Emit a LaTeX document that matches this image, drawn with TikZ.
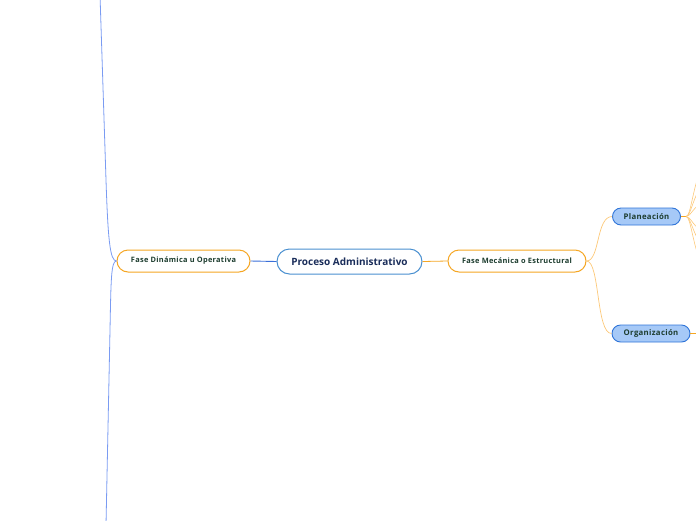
\documentclass[tikz,border=0pt]{standalone}
\usepackage{fontspec}
\setmainfont{Open Sans}
\usetikzlibrary{shapes.misc}
\definecolor{cblue}{HTML}{4A90D0}
\definecolor{cnavy}{HTML}{1A2D5A}
\definecolor{corange}{HTML}{F5A623}
\definecolor{clorange}{HTML}{FCC878}
\definecolor{cgreen}{HTML}{1D3D2F}
\definecolor{cfill}{HTML}{A6C9F7}
\definecolor{cfborder}{HTML}{2F74D8}
\definecolor{cline}{HTML}{7A9BF2}
\definecolor{cdline}{HTML}{3A6FD8}
\newfontfamily\smallfam[LetterSpace=4]{Open Sans}
\tikzset{
  central/.style={draw=cblue, line width=1pt, rounded rectangle, fill=white,
    minimum width=145pt, minimum height=25pt, inner sep=0pt,
    font=\fontsize{10}{12}\selectfont\bfseries, text=cnavy},
  phase/.style={draw=corange, line width=1pt, rounded rectangle, fill=white,
    minimum height=22pt, inner sep=0pt,
    font=\smallfam\fontsize{7.4}{9}\selectfont\bfseries, text=cgreen},
  sub/.style={draw=cfborder, line width=0.9pt, rounded rectangle, fill=cfill,
    minimum height=17pt, inner sep=0pt,
    font=\smallfam\fontsize{7.8}{9}\selectfont\bfseries, text=cgreen},
  blueline/.style={draw=cline, line width=0.8pt},
  orline/.style={draw=clorange, line width=0.7pt},
}
\begin{document}
\begin{tikzpicture}[x=1pt,y=-1pt]
\useasboundingbox (0,0) rectangle (696,520);
\clip (0,0) rectangle (696,520);
\node[central] (pa) at (349.5,261.5) {Proceso Administrativo};
\node[phase, minimum width=133pt] (fd) at (183.5,261) {Fase Dinámica u Operativa};
\node[phase, minimum width=138pt] (fm) at (517,261) {Fase Mecánica o Estructural};
\node[sub, minimum width=68pt] (pl) at (646.5,216.5) {Planeación};
\node[sub, minimum width=78pt] (or) at (651,333.5) {Organización};
\coordinate (top) at (100,-5);
\coordinate (bot) at (106,525);
\coordinate (plh) at (686,216.5);
\coordinate (orend) at (700,333.5);
% left connectors
\draw[draw=cdline, line width=0.9pt] (pa.west) -- (fd.east);
\draw[blueline] (fd.west) .. controls (110,261) and (108,240) .. (106,180) -- (top);
\draw[blueline] (fd.west) .. controls (111,261) and (111,280) .. (110,330) -- (bot);
% right connectors
\draw[draw=corange, line width=0.8pt] (pa.east) -- (fm.west);
\draw[orline] (fm.east) .. controls (600,261) and (596,216.5) .. (pl.west);
\draw[orline] (fm.east) .. controls (600,261) and (596,333.5) .. (or.west);
\draw[draw=corange, line width=1.6pt] (pl.east) -- (plh);
\foreach \y/\ex in {160/704,178/706,198/708,236/708,252/706,272/704}{
  \coordinate (fan\y) at (\ex,\y);
  \draw[orline, line width=0.6pt] (plh) .. controls (691,216.5) and (692,{(216.5+\y)/2}) .. (fan\y);
}
\draw[draw=corange, line width=0.8pt] (or.east) -- (orend);
\end{tikzpicture}
\end{document}
